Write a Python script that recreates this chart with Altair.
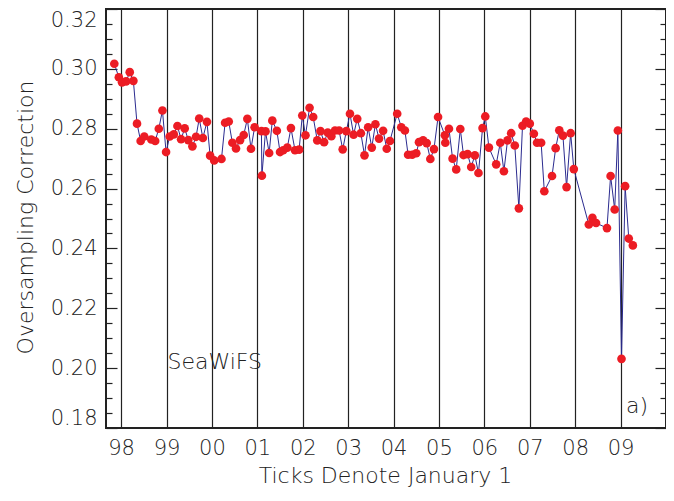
import altair as alt
import pandas as pd

# decimal year of each lunar calibration
years = [
    1997.85, 1997.95, 1998.02, 1998.11, 1998.19, 1998.27, 1998.35, 1998.43, 1998.51, 1998.665,
    1998.75, 1998.83, 1998.91, 1998.99, 1999.07, 1999.16, 1999.24, 1999.32, 1999.40, 1999.48,
    1999.57, 1999.65, 1999.72, 1999.80, 1999.89, 1999.96, 2000.05, 2000.21, 2000.29, 2000.37,
    2000.45, 2000.53, 2000.62, 2000.70, 2000.78, 2000.86, 2000.94, 2001.09, 2001.10, 2001.18,
    2001.26, 2001.33, 2001.43, 2001.50, 2001.57, 2001.66, 2001.74, 2001.83, 2001.92, 2001.99,
    2002.06, 2002.15, 2002.23, 2002.32, 2002.39, 2002.47, 2002.55, 2002.63, 2002.71, 2002.80,
    2002.88, 2002.96, 2003.04, 2003.12, 2003.20, 2003.28, 2003.36, 2003.44, 2003.52, 2003.60,
    2003.68, 2003.77, 2003.85, 2003.92, 2004.08, 2004.17, 2004.25, 2004.32, 2004.41, 2004.50,
    2004.56, 2004.65, 2004.73, 2004.81, 2004.89, 2004.98, 2005.13, 2005.14, 2005.22, 2005.30,
    2005.38, 2005.47, 2005.54, 2005.63, 2005.71, 2005.79, 2005.87, 2005.96, 2006.02, 2006.10,
    2006.26, 2006.35, 2006.43, 2006.51, 2006.59, 2006.67, 2006.76, 2006.84, 2006.92, 2007.00,
    2007.09, 2007.16, 2007.25, 2007.32, 2007.49, 2007.57, 2007.65, 2007.73, 2007.81, 2007.90,
    2007.97, 2008.30, 2008.38, 2008.46, 2008.70, 2008.78, 2008.87, 2008.94, 2009.02, 2009.10,
    2009.18, 2009.27,
]

correction = [
    0.3017, 0.2972, 0.2955, 0.2958, 0.2989, 0.2960, 0.2817, 0.2759, 0.2774, 0.2764,
    0.2759, 0.2800, 0.2861, 0.2722, 0.2774, 0.2781, 0.2809, 0.2765, 0.2801, 0.2762,
    0.2741, 0.2773, 0.2834, 0.2769, 0.2823, 0.2710, 0.2694, 0.2699, 0.2820, 0.2824,
    0.2753, 0.2734, 0.2762, 0.2779, 0.2833, 0.2733, 0.2805, 0.2792, 0.2643, 0.2791,
    0.2719, 0.2827, 0.2793, 0.2722, 0.2728, 0.2737, 0.2802, 0.2728, 0.2730, 0.2844,
    0.2778, 0.2870, 0.2839, 0.2761, 0.2792, 0.2755, 0.2787, 0.2775, 0.2794, 0.2794,
    0.2731, 0.2792, 0.2850, 0.2780, 0.2833, 0.2785, 0.2711, 0.2805, 0.2737, 0.2815,
    0.2767, 0.2793, 0.2733, 0.2759, 0.2850, 0.2805, 0.2794, 0.2713, 0.2713, 0.2718,
    0.2755, 0.2761, 0.2752, 0.2699, 0.2732, 0.2839, 0.2778, 0.2753, 0.2800, 0.2700,
    0.2664, 0.2799, 0.2712, 0.2715, 0.2672, 0.2711, 0.2652, 0.2802, 0.2841, 0.2737,
    0.2681, 0.2753, 0.2658, 0.2761, 0.2785, 0.2744, 0.2534, 0.2810, 0.2824, 0.2817,
    0.2783, 0.2753, 0.2753, 0.2591, 0.2642, 0.2735, 0.2795, 0.2777, 0.2605, 0.2785,
    0.2665, 0.2480, 0.2502, 0.2485, 0.2468, 0.2642, 0.2530, 0.2794, 0.2031, 0.2608,
    0.2433, 0.2410,
]

year_ticks = [1998, 1999, 2000, 2001, 2002, 2003, 2004, 2005, 2006, 2007, 2008, 2009]
y_major = [0.18, 0.20, 0.22, 0.24, 0.26, 0.28, 0.30, 0.32]
y_minor = [0.185, 0.19, 0.195, 0.205, 0.21, 0.215, 0.225, 0.23, 0.235, 0.245, 0.25, 0.255,
           0.265, 0.27, 0.275, 0.285, 0.29, 0.295, 0.305, 0.31, 0.315]

annotations = ["SeaWiFS", "a)"]
annot_x = [1999.02, 2009.12]
annot_y = [0.2021, 0.1874]

df = pd.DataFrame({"x": years, "y": correction})
df_text = pd.DataFrame({"x": annot_x, "y": annot_y, "label": annotations})

FONT = "DejaVu Sans"
FW = 200
TXT = "#222222"
FS_LAB = 21
FS_TITLE = 22

x_scale = alt.Scale(domain=[1997.667, 2010.0], nice=False, zero=False)
y_scale = alt.Scale(domain=[0.18, 0.32], nice=False, zero=False)

x_axis = alt.Axis(
    values=year_ticks,
    labelExpr="substring(toString(datum.value), 2, 4)",
    grid=True, gridColor="#222222", gridWidth=1.2,
    ticks=False, tickSize=0, domain=False,
    labelFont=FONT, labelFontSize=FS_LAB, labelFontWeight=FW, labelColor=TXT,
    labelPadding=20, labelBaseline="middle", labelFlush=False,
    title="Ticks Denote January 1",
    titleFont=FONT, titleFontSize=FS_TITLE, titleFontWeight=FW, titleColor=TXT,
    titleX=279, titleY=47, titleBaseline="middle", titleAlign="center",
)
x_enc = alt.X("x:Q", scale=x_scale, axis=x_axis)

y_main = alt.Axis(
    values=y_major, format=".2f", orient="left",
    grid=False, ticks=False, tickSize=0, domain=False,
    labelFont=FONT, labelFontSize=FS_LAB, labelFontWeight=FW, labelColor=TXT,
    labelPadding=9, labelFlush=True,
    title="Oversampling Correction",
    titleFont=FONT, titleFontSize=FS_TITLE, titleFontWeight=FW, titleColor=TXT,
    titleX=-81, titleY=208, titleAngle=-90, titleBaseline="middle", titleAlign="center",
)


def tick_axis(vals, orient, size):
    return alt.Axis(values=vals, orient=orient, offset=-size, tickSize=size,
                    tickColor="#222222", tickWidth=1.2, labels=False, domain=False,
                    grid=False, title=None)


base = alt.Chart(df)

line = base.mark_line(color="#2b2b8f", strokeWidth=1).encode(
    x=x_enc, y=alt.Y("y:Q", scale=y_scale, axis=y_main)
)
points = base.mark_circle(color="#ec1c24", opacity=1, size=75).encode(
    x=x_enc, y=alt.Y("y:Q", scale=y_scale, axis=tick_axis(y_major, "left", 11))
)
inv1 = base.mark_point(opacity=0).encode(
    x=x_enc, y=alt.Y("y:Q", scale=y_scale, axis=tick_axis(y_minor, "left", 6))
)
inv2 = base.mark_point(opacity=0).encode(
    x=x_enc, y=alt.Y("y:Q", scale=y_scale, axis=tick_axis(y_major, "right", 11))
)
inv3 = base.mark_point(opacity=0).encode(
    x=x_enc, y=alt.Y("y:Q", scale=y_scale, axis=tick_axis(y_minor, "right", 6))
)
text = alt.Chart(df_text).mark_text(
    align="left", baseline="middle", font=FONT, fontSize=FS_TITLE, fontWeight=FW, color=TXT
).encode(
    x=x_enc, y=alt.Y("y:Q", scale=y_scale, axis=None), text="label:N"
)

chart = alt.layer(line, points, inv1, inv2, inv3, text).resolve_axis(
    y="independent"
).properties(
    width=560, height=419,
    autosize=alt.AutoSizeParams(type="none"),
    padding={"left": 98, "top": 1, "right": 0, "bottom": 61},
).configure_view(stroke="#222222", strokeWidth=2)

chart.save("out.html", embed_options={"renderer": "svg", "actions": False})
